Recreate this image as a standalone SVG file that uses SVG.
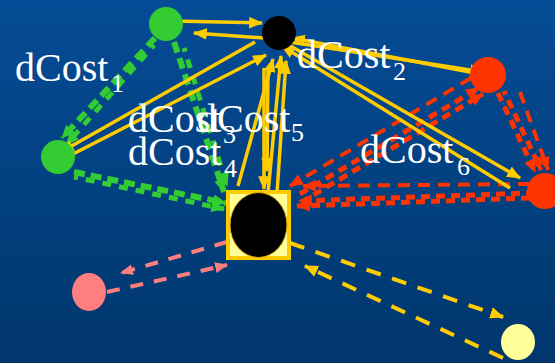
<svg xmlns="http://www.w3.org/2000/svg" xmlns:xlink="http://www.w3.org/1999/xlink" width="555" height="363" viewBox="0 0 555 363">
<defs>
<linearGradient id="bg" x1="0" y1="0" x2="0" y2="1">
<stop offset="0" stop-color="#054c96"/>
<stop offset="1" stop-color="#00366c"/>
</linearGradient>
<marker id="ay" viewBox="0 0 12 10" refX="11" refY="5" markerWidth="14" markerHeight="12" markerUnits="userSpaceOnUse" orient="auto"><path d="M0,0 L12,5 L0,10 z" fill="#ffcc00"/></marker>
<marker id="ag" viewBox="0 0 12 10" refX="11" refY="5" markerWidth="14" markerHeight="12" markerUnits="userSpaceOnUse" orient="auto"><path d="M0,0 L12,5 L0,10 z" fill="#33cc33"/></marker>
<marker id="ar" viewBox="0 0 12 10" refX="11" refY="5" markerWidth="14" markerHeight="12" markerUnits="userSpaceOnUse" orient="auto"><path d="M0,0 L12,5 L0,10 z" fill="#ff3300"/></marker>
<marker id="ap" viewBox="0 0 12 10" refX="11" refY="5" markerWidth="13" markerHeight="11" markerUnits="userSpaceOnUse" orient="auto"><path d="M0,0 L12,5 L0,10 z" fill="#ff7f7f"/></marker>
<style>
.ys{fill:none;stroke:#ffcc00;stroke-width:3.5;marker-end:url(#ay)}
.yd{fill:none;stroke:#ffcc00;stroke-width:4;stroke-dasharray:15 12;marker-end:url(#ay)}
.pd{fill:none;stroke:#ff7f7f;stroke-width:4;stroke-dasharray:13 11;marker-end:url(#ap)}
.gd{fill:none;stroke:#33cc33;stroke-width:6;stroke-dasharray:11 6;marker-end:url(#ag)}
.gj{fill:none;stroke:#33cc33;stroke-width:5;stroke-dasharray:9 8;stroke-dashoffset:5;marker-end:url(#ag)}
.rd{fill:none;stroke:#ff3300;stroke-width:4;stroke-dasharray:12 8;marker-end:url(#ar)}
.rj{fill:none;stroke:#ff3300;stroke-width:5;stroke-dasharray:9 6;marker-end:url(#ar)}
.rj2{fill:none;stroke:#ff3300;stroke-width:5;stroke-dasharray:9 6;stroke-dashoffset:5;marker-end:url(#ar)}
.lbl{font-family:"Liberation Serif","Times New Roman",serif;fill:#ffffff;font-size:40px}
.sub{font-family:"Liberation Serif","Times New Roman",serif;fill:#ffffff;font-size:26px}
</style>
</defs>
<rect x="0" y="0" width="555" height="363" fill="url(#bg)"/>
<g id="connectors">
<path class="gd" d="M155,38 L62,138"/>
<path class="gj" d="M150,42 L62,142" transform="translate(4,3)"/>
<path class="gd" d="M174,42 L224,192"/>
<path class="gj" d="M184,48 L227,186"/>
<path class="gd" d="M74,172 L226,203"/>
<path class="gj" d="M74,177 L224,209"/>
<path class="rd" d="M520,92 L548,170"/>
<path class="rj" d="M498,93 L535,172"/>
<path class="rj2" d="M504,91 L541,170"/>
<path class="rd" d="M530,184 L303,186"/>
<path class="rj" d="M530,198 L297,206"/>
<path class="rj2" d="M530,193 L299,201"/>
<path class="rd" d="M471,78 L290,186"/>
<path class="rj" d="M300,194 L479,88"/>
<path class="rj2" d="M305,200 L483,94"/>
<path class="ys" d="M172,21 L262,23"/>
<path class="ys" d="M278,39 L194,33"/>
<path class="ys" d="M255,42 L61,152"/>
<path class="ys" d="M73,154 L266,55"/>
<path class="ys" d="M475,73 L292,38"/>
<path class="ys" d="M290,42 L483,72"/>
<path class="ys" d="M510,188 L282,46"/>
<path class="ys" d="M287,44 L520,178"/>
<path class="ys" d="M264,68 L264,189"/>
<path class="ys" d="M268,68 L267,171"/>
<path class="ys" d="M238,186 L273,59"/>
<path class="ys" d="M268,193 L281,56"/>
<path class="ys" d="M277,193 L286,61"/>
<path class="pd" d="M227,242 L121,273"/>
<path class="pd" d="M107,292 L227,265"/>
<path class="yd" d="M290,243 L503,317"/>
<path class="yd" d="M503,358 L305,266"/>
</g>
<g id="node-green-top"><circle cx="166" cy="24" r="17" fill="#33cc33"/></g>
<g id="node-black-top"><circle cx="279" cy="33" r="17" fill="#000000"/></g>
<g id="node-green-left"><circle cx="58" cy="157" r="17" fill="#33cc33"/></g>
<g id="node-red-top"><circle cx="488" cy="75" r="18" fill="#ff3300"/></g>
<g id="node-red-right"><circle cx="545" cy="191" r="18" fill="#ff3300"/></g>
<g id="node-center">
<rect x="228" y="192" width="61" height="66" fill="#ffff99" stroke="#ffcc00" stroke-width="4"/>
<ellipse cx="258.5" cy="225" rx="28.5" ry="32.5" fill="#000000" stroke="#e6b800" stroke-width="1"/>
</g>
<g id="node-pink"><ellipse cx="89" cy="292" rx="17" ry="19" fill="#ff7f7f"/></g>
<g id="node-lightyellow"><ellipse cx="518" cy="342" rx="17" ry="18" fill="#ffff99"/></g>
<g id="labels">
<text class="lbl" x="15" y="81">dCost</text><text class="sub" x="111" y="92">1</text>
<text class="lbl" x="297" y="68">dCost</text><text class="sub" x="393" y="80">2</text>
<text class="lbl" x="128" y="132">dCost</text><text class="sub" x="223" y="143">3</text>
<text class="lbl" x="197" y="132">dCost</text><text class="sub" x="291" y="141">5</text>
<text class="lbl" x="128" y="165">dCost</text><text class="sub" x="224" y="177">4</text>
<text class="lbl" x="360" y="163">dCost</text><text class="sub" x="457" y="175">6</text>
</g>
</svg>
